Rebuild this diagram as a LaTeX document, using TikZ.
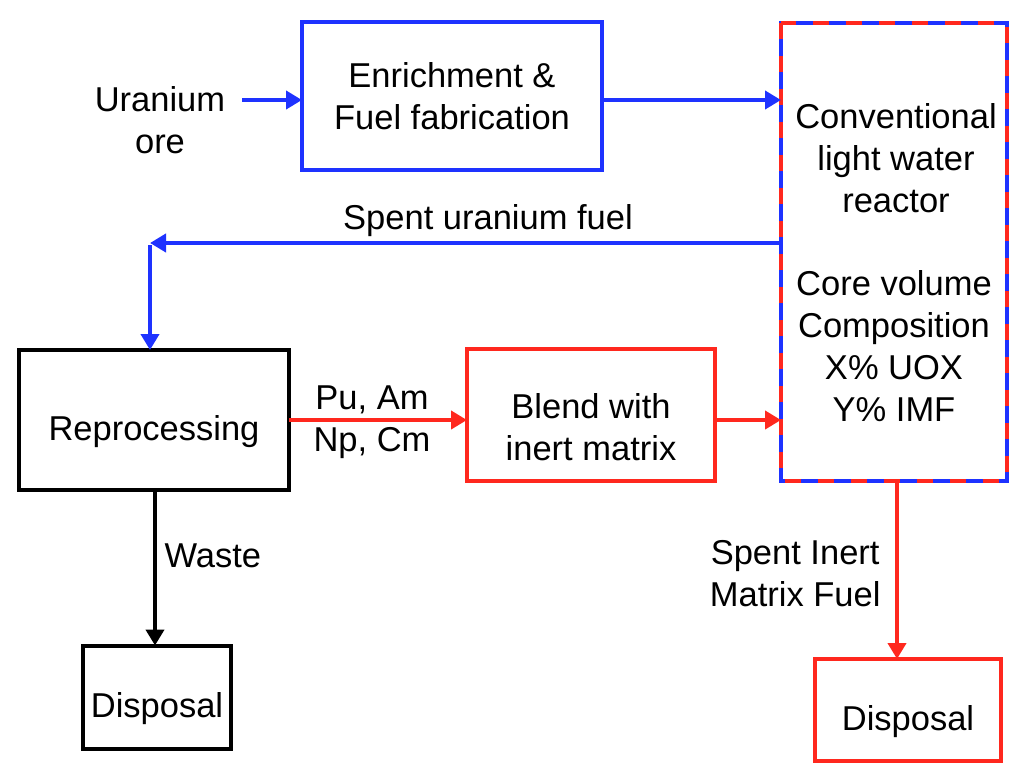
\documentclass[tikz,border=0pt]{standalone}
\usepackage{fontspec}
\setmainfont{Liberation Sans}
\usetikzlibrary{arrows.meta}
\definecolor{bl}{RGB}{30,50,255}
\definecolor{rd}{RGB}{255,40,30}
\begin{document}
\begin{tikzpicture}[x=1pt,y=-1pt,
  txt/.style={font=\fontsize{34.5}{42}\selectfont,align=center},
  box/.style={draw,line width=4pt,txt,inner sep=0pt,outer sep=0pt},
  lbl/.style={label={[txt,yshift=-12pt]center:#1}},
  arr/.style={line width=4pt,-{Triangle[length=16pt,width=18pt]}}]
\useasboundingbox (0,0) rectangle (1024,774);
\node[box,draw=bl,minimum width=300,minimum height=148] (enr) at (452,96) {Enrichment \&\\Fuel fabrication};
\node[txt,minimum width=226,minimum height=458,inner sep=0pt,outer sep=0pt] (rea) at (894,252) {};
\draw[bl,line width=4pt] (rea.north west) rectangle (rea.south east);
\draw[rd,line width=4pt,dash pattern=on 16pt off 17pt] (rea.north west) rectangle (rea.south east);
\node[txt] at (896,158) {Conventional\\light water\\reactor};
\node[txt] at (894,346) {Core volume\\Composition\\X\% UOX\\Y\% IMF};
\node[box,draw=black,minimum width=270,minimum height=140,lbl={Reprocessing}] (rep) at (154,420) {};
\node[box,draw=rd,minimum width=248,minimum height=132,lbl={Blend with\\inert matrix}] (ble) at (591,415) {};
\node[box,draw=black,minimum width=148,minimum height=103,lbl={Disposal}] (d1) at (157,697) {};
\node[box,draw=rd,minimum width=186,minimum height=102,lbl={Disposal}] (d2) at (908,710) {};
\node[txt] (ore) at (160,120) {Uranium\\ore};
\coordinate (c) at (150,243);
\coordinate (o) at (242,100);
\draw[arr,bl] (o) -- (enr.west |- o);
\draw[arr,bl] (enr.east |- o) -- (rea.west |- o);
\draw[arr,bl] (rea.west |- c) -- (c);
\draw[arr,bl] ([yshift=-2pt]c) -- (c |- rep.north);
\node[txt,anchor=south] at (488,240) {Spent uranium fuel};
\draw[arr,rd] (rep.east |- 0,420) -- (ble.west |- 0,420);
\node[txt] at (372,422) {Pu, Am\\Np, Cm};
\draw[arr,rd] (ble.east |- 0,420) -- (rea.west |- 0,420);
\draw[arr,black] (rep.south -| 155,0) -- (d1.north -| 155,0);
\node[txt,anchor=west] at (161,556) {Waste};
\draw[arr,rd] (rea.south -| 897,0) -- (d2.north -| 897,0);
\node[txt,anchor=east] at (884,574) {Spent Inert\\Matrix Fuel};
\end{tikzpicture}
\end{document}
